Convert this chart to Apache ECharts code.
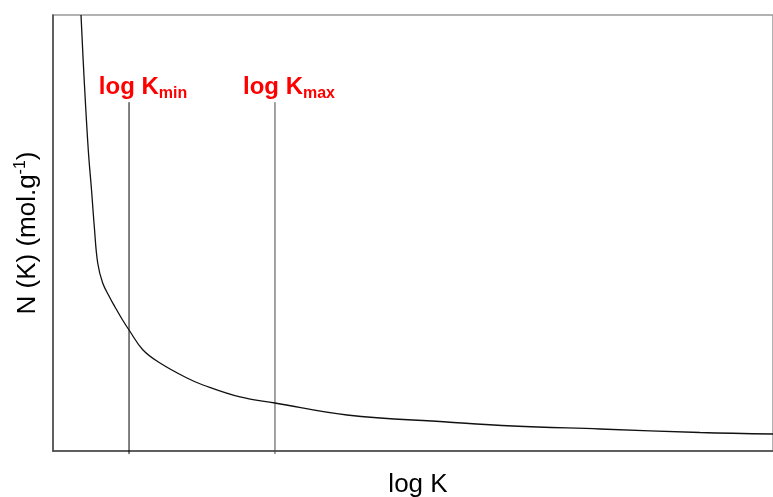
<!DOCTYPE html>
<html>
<head>
<meta charset="utf-8">
<script src="https://cdn.jsdelivr.net/npm/echarts@6/dist/echarts.min.js"></script>
<style>
html,body{margin:0;padding:0;background:#fff;}
#chart{width:773px;height:497px;}
</style>
</head>
<body>
<div id="chart"></div>
<script>
// Curve N(K) vs log K (arbitrary units)
const curveX = [3.89, 4.31, 4.90, 5.35, 5.74, 6.21, 6.90, 7.92, 8.61, 9.58, 10.56, 12.5, 14.86, 18.61, 20.83, 25.97, 30.83, 40.83, 54.72, 63.89, 75.97, 89.86, 100];
const curveY = [100, 85.78, 69.04, 59.86, 51.38, 43.12, 38.53, 35.09, 33.03, 30.28, 27.75, 23.17, 20.18, 16.74, 15.14, 12.39, 11.01, 8.26, 6.65, 5.73, 5.05, 4.24, 3.90];
// Marker positions
const markerNames = ['min', 'max'];
const markerX = [10.56, 30.83];
const markerTop = 80;
const markerBottom = -0.7;

const chart = echarts.init(document.getElementById('chart'));
const FONT = '"Liberation Sans", Arial, sans-serif';

const series = [{
  type: 'line',
  data: curveX.map((x, i) => [x, curveY[i]]),
  showSymbol: false,
  smooth: 0.4,
  lineStyle: {color: '#111', width: 1.3},
  z: 3
}];
markerX.forEach((x, i) => {
  series.push({
    type: 'line',
    data: [[x, markerBottom], [x, markerTop]],
    showSymbol: false,
    clip: false,
    lineStyle: {color: i === 0 ? '#000' : '#444', width: 1},
    z: 2
  });
  series.push({
    type: 'scatter',
    data: [[x, markerTop]],
    symbolSize: 0,
    itemStyle: {opacity: 1},
    label: {
      show: true,
      position: 'top',
      distance: 0,
      offset: [14, -1],
      formatter: '{a|log K}{b|' + markerNames[i] + '}',
      rich: {
        a: {fontFamily: FONT, fontSize: 24, fontWeight: 'bold', color: '#ff0000'},
        b: {fontFamily: FONT, fontSize: 16, fontWeight: 'bold', color: '#ff0000', padding: [12, 0, 0, 0]}
      }
    },
    z: 4
  });
});

chart.setOption({
  animation: false,
  backgroundColor: '#fff',
  grid: {left: 53, right: 0, top: 15, bottom: 46, outerBoundsMode: 'none', containLabel: false,
    show: true, borderColor: '#999', borderWidth: 1.5, backgroundColor: 'transparent'},
  xAxis: {
    type: 'value', min: 0, max: 100,
    name: 'log K', nameLocation: 'middle', nameGap: 21,
    nameTextStyle: {fontFamily: FONT, fontSize: 26, color: '#000', padding: [0, 0, 0, 10]},
    axisLine: {show: true, onZero: false, lineStyle: {color: '#444', width: 1.5}},
    axisTick: {show: false}, axisLabel: {show: false}, splitLine: {show: false}
  },
  yAxis: {
    type: 'value', min: 0, max: 100,
    name: 'N (K) (mol.g{sup|-1})', nameLocation: 'middle', nameGap: 10,
    nameTextStyle: {fontFamily: FONT, fontSize: 26, color: '#000',
      rich: {sup: {fontFamily: FONT, fontSize: 16, color: '#000', padding: [0, 0, 14, 0]}}},
    axisLine: {show: true, onZero: false, lineStyle: {color: '#444', width: 1.5}},
    axisTick: {show: false}, axisLabel: {show: false}, splitLine: {show: false}
  },
  series: series
});
</script>
</body>
</html>
